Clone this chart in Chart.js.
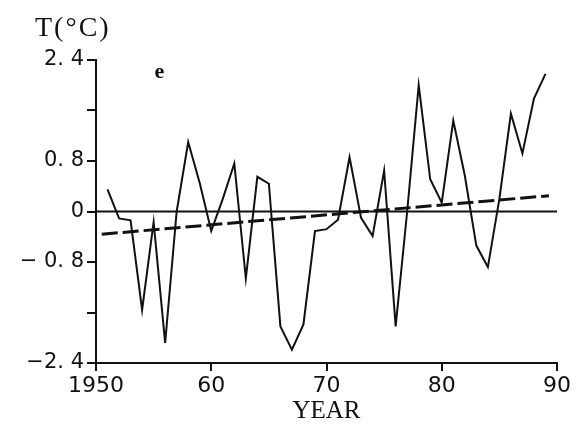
<!DOCTYPE html>
<html>
<head>
<meta charset="utf-8">
<script src="https://cdn.jsdelivr.net/npm/chart.js@4/dist/chart.umd.min.js"></script>
<style>
  html, body { margin: 0; padding: 0; background: #fff; }
  #wrap { width: 576px; height: 426px; }
</style>
</head>
<body>
<div id="wrap"><canvas id="myChart"></canvas></div>
<script>
// yearly temperature anomaly
const years = [1951,1952,1953,1954,1955,1956,1957,1958,1959,1960,
               1961,1962,1963,1964,1965,1966,1967,1968,1969,1970,
               1971,1972,1973,1974,1975,1976,1977,1978,1979,1980,
               1981,1982,1983,1984,1985,1986,1987,1988,1989];
const temps = [0.35,-0.11,-0.14,-1.56,-0.17,-2.08,0.0,1.10,0.45,-0.31,
               0.20,0.76,-1.06,0.55,0.44,-1.82,-2.19,-1.79,-0.31,-0.28,
               -0.13,0.86,-0.10,-0.39,0.65,-1.82,0.0,2.00,0.51,0.14,
               1.44,0.57,-0.54,-0.88,0.20,1.55,0.92,1.79,2.18];

// linear trend (dashed) end points
const trendYears = [1950.5, 1989.3];
const trendTemps = [-0.36, 0.25];

// zero line
const zeroYears = [1950, 1990];
const zeroTemps = [0, 0];

const xTicks = [1950, 1960, 1970, 1980, 1990];
const xTickLabels = ['1950', '60', '70', '80', '90'];
const yTicks = [-2.4, -1.6, -0.8, 0, 0.8, 1.6, 2.4];
const yTickLabels = ['\u22122. 4', '', '\u2212 0. 8', '0', '0. 8', '', '2. 4'];

function toPoints(xs, ys) {
  return xs.map((x, i) => ({x: x, y: ys[i]}));
}

const textPlugin = {
  id: 'extraText',
  afterDraw(chart) {
    const ctx = chart.ctx;
    const area = chart.chartArea;
    const xs = chart.scales.x, ys = chart.scales.y;
    ctx.save();
    ctx.fillStyle = '#111';
    ctx.textAlign = 'left';
    ctx.textBaseline = 'alphabetic';
    ctx.font = '28px "Liberation Serif"';
    ctx.letterSpacing = '2px';
    ctx.fillText('T(\u00B0C)', area.left - 61, 36);
    ctx.letterSpacing = '0px';
    ctx.textAlign = 'center';
    ctx.textBaseline = 'middle';
    ctx.font = 'bold 22px "Liberation Serif"';
    ctx.fillText('e', xs.getPixelForValue(1955.5), ys.getPixelForValue(2.2));
    ctx.restore();
  }
};

const ctx = document.getElementById('myChart');

new Chart(ctx, {
  type: 'line',
  data: {
    datasets: [
      {
        label: 'T',
        data: toPoints(years, temps),
        borderColor: '#111',
        borderWidth: 2,
        pointRadius: 0,
        tension: 0
      },
      {
        label: 'trend',
        data: toPoints(trendYears, trendTemps),
        borderColor: '#111',
        borderWidth: 3,
        borderDash: [16, 5],
        pointRadius: 0
      },
      {
        label: 'zero',
        data: toPoints(zeroYears, zeroTemps),
        borderColor: '#111',
        borderWidth: 2,
        pointRadius: 0
      }
    ]
  },
  options: {
    responsive: true,
    maintainAspectRatio: false,
    animation: false,
    layout: { padding: { top: 60, right: 19, left: 0, bottom: 0 } },
    plugins: {
      legend: { display: false },
      tooltip: { enabled: false }
    },
    scales: {
      x: {
        type: 'linear',
        min: 1950,
        max: 1990,
        afterBuildTicks: (s) => { s.ticks = xTicks.map(v => ({value: v})); },
        afterFit: (s) => { s.height = 63; },
        ticks: {
          color: '#111',
          font: { family: 'DejaVu Sans', size: 22 },
          padding: 2,
          maxRotation: 0,
          callback: (v, i) => xTickLabels[i]
        },
        grid: { drawOnChartArea: false, drawTicks: true, tickLength: 8, color: '#111', lineWidth: 2 },
        border: { display: true, color: '#111', width: 2 },
        title: {
          display: true,
          text: 'YEAR',
          color: '#111',
          font: { family: 'Liberation Serif', size: 25 },
          padding: { top: 0, bottom: 0 }
        }
      },
      y: {
        type: 'linear',
        min: -2.4,
        max: 2.4,
        afterBuildTicks: (s) => { s.ticks = yTicks.map(v => ({value: v})); },
        afterFit: (s) => { s.width = 96; },
        ticks: {
          color: '#111',
          font: { family: 'DejaVu Sans', size: 21 },
          padding: 3,
          callback: (v, i) => yTickLabels[i]
        },
        grid: { drawOnChartArea: false, drawTicks: true, tickLength: 9, color: '#111', lineWidth: 2 },
        border: { display: true, color: '#111', width: 2 }
      }
    }
  },
  plugins: [textPlugin]
});
</script>
</body>
</html>
